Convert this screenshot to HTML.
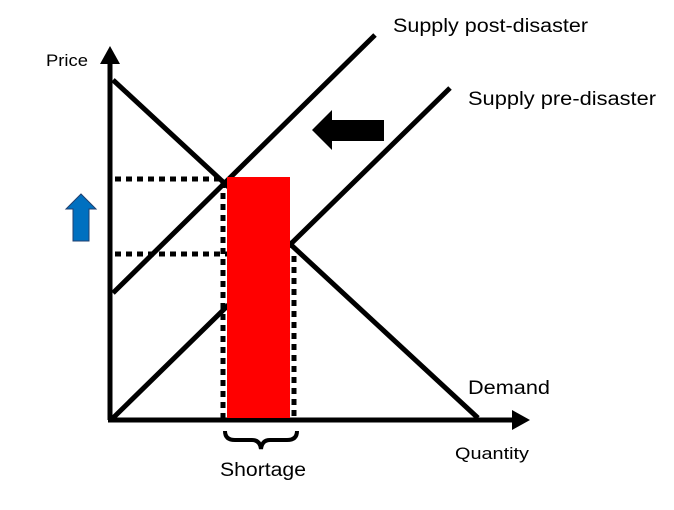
<!DOCTYPE html>
<html><head><style>html,body{margin:0;padding:0;background:#fff;}svg{display:block}</style></head>
<body>
<svg width="674" height="510" viewBox="0 0 674 510" xmlns="http://www.w3.org/2000/svg" font-family="Liberation Sans, sans-serif">
<rect width="674" height="510" fill="#fff"/>
<!-- dotted lines -->
<g stroke="#000" stroke-width="5" stroke-dasharray="6,5" fill="none">
<line x1="115" y1="179" x2="225" y2="179"/>
<line x1="115" y1="254" x2="227" y2="254"/>
<line x1="223" y1="182" x2="223" y2="418"/>
<line x1="294" y1="256" x2="294" y2="418"/>
</g>
<!-- axes -->
<g stroke="#000" stroke-width="5" fill="none">
<line x1="110" y1="420" x2="110" y2="60"/>
<line x1="108" y1="420" x2="515" y2="420"/>
<line x1="113" y1="80" x2="478" y2="418"/>
<line x1="113" y1="293" x2="375" y2="35"/>
<line x1="113" y1="418" x2="450" y2="88"/>
</g>
<!-- red rect over lines -->
<rect x="227" y="177" width="63" height="241" fill="#ff0000"/>
<polygon points="110,46 100,64 120,64" fill="#000"/>
<polygon points="530,420 512,410 512,430" fill="#000"/>
<!-- black arrow -->
<polygon points="312,130 332,110 332,120 384,120 384,141 332,141 332,150" fill="#000"/>
<!-- blue arrow -->
<polygon points="81,194 96,209 89,209 89,241 73,241 73,209 66,209" fill="#0070c0" stroke="#1f3f6f" stroke-width="1"/>
<!-- brace -->
<path d="M225,431 Q225,440 235,440 L252,440 Q260,440 261,449 Q262,440 270,440 L287,440 Q297,440 297,431" stroke="#000" stroke-width="4" fill="none"/>
<g fill="#000">
<text x="46" y="66" font-size="17" textLength="42" lengthAdjust="spacingAndGlyphs">Price</text>
<text x="393" y="32" font-size="19" textLength="195" lengthAdjust="spacingAndGlyphs">Supply post-disaster</text>
<text x="468" y="105" font-size="19" textLength="188" lengthAdjust="spacingAndGlyphs">Supply pre-disaster</text>
<text x="468" y="394" font-size="19" textLength="82" lengthAdjust="spacingAndGlyphs">Demand</text>
<text x="455" y="459" font-size="17" textLength="74" lengthAdjust="spacingAndGlyphs">Quantity</text>
<text x="220" y="476" font-size="19" textLength="86" lengthAdjust="spacingAndGlyphs">Shortage</text>
</g>
</svg>
</body></html>
